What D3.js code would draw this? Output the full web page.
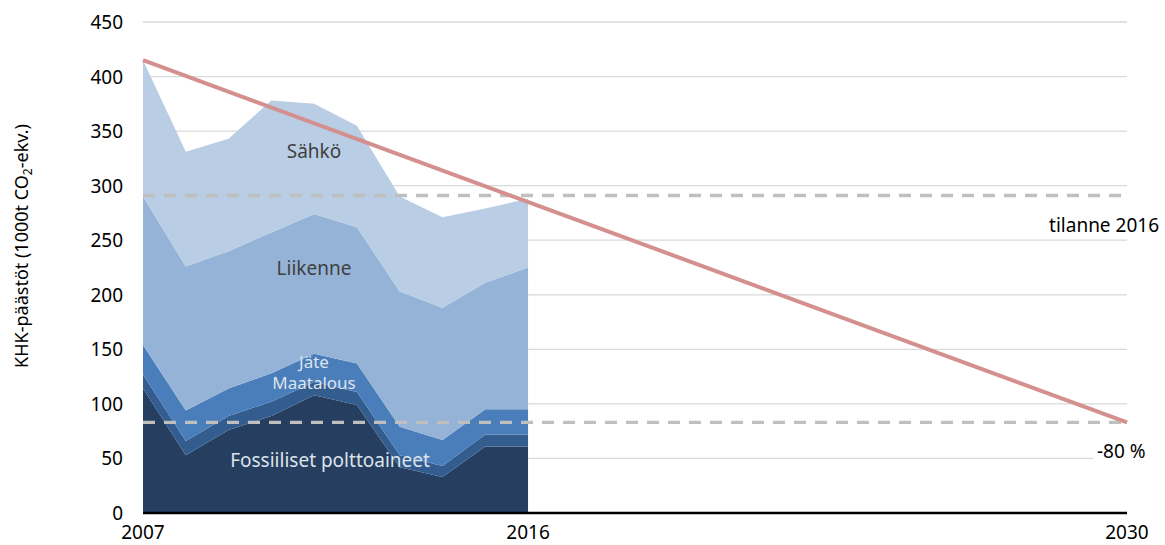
<!DOCTYPE html>
<html>
<head>
<meta charset="utf-8">
<script src="https://cdn.jsdelivr.net/npm/d3@7"></script>
<style>
  body { margin: 0; background: #fff; }
  svg text { font-family: "Noto Sans", "Open Sans", sans-serif; }
</style>
</head>
<body>
<script>
// vuodet ja sektorit
var years = [2007, 2008, 2009, 2010, 2011, 2012, 2013, 2014, 2015, 2016];
var fossiiliset = [114, 53, 76, 89, 108, 99, 42, 33, 61, 61];
var maatalous = [13, 13, 13, 13, 12, 12, 11, 10, 11, 11];
var jate = [27, 28, 25, 26, 26, 26, 26, 24, 23, 23];
var liikenne = [136, 132, 126, 129, 128, 125, 124, 121, 116, 130];
var sahko = [125, 105, 103, 121, 101, 93, 87, 83, 68, 63];

var seriesNames = ["Fossiiliset polttoaineet", "Maatalous", "Jäte", "Liikenne", "Sähkö"];
var seriesColors = ["#263f60", "#335d8f", "#4a7ebb", "#95b3d7", "#b9cde5"];

// tavoiteviiva ja viitetasot
var targetYears = [2007, 2030];
var targetValues = [415, 83];
var tilanne2016 = 291;
var miinus80 = 83;

var xTicks = [2007, 2016, 2030];
var yTicks = [0, 50, 100, 150, 200, 250, 300, 350, 400, 450];

var width = 1165, height = 545;
var margin = {top: 22, bottom: 32, left: 143, right: 38};

var svg = d3.select("body").append("svg")
    .attr("width", width)
    .attr("height", height);

var x = d3.scaleLinear().domain([2007, 2030]).range([margin.left, width - margin.right]);
var y = d3.scaleLinear().domain([0, 450]).range([height - margin.bottom, margin.top]);

// gridlines
svg.append("g").selectAll("line")
    .data(yTicks.slice(1))
    .join("line")
    .attr("x1", x(2007)).attr("x2", x(2030))
    .attr("y1", d => y(d)).attr("y2", d => y(d))
    .attr("stroke", "#d9d9d9").attr("stroke-width", 1.3);

// pinotut alueet
var table = years.map(function(yr, i) {
  return {year: yr, s0: fossiiliset[i], s1: maatalous[i], s2: jate[i], s3: liikenne[i], s4: sahko[i]};
});
var stack = d3.stack().keys(["s0", "s1", "s2", "s3", "s4"]);
var layers = stack(table);

var area = d3.area()
    .x(d => x(d.data.year))
    .y0(d => y(d[0]))
    .y1(d => y(d[1]));

svg.append("g").selectAll("path")
    .data(layers)
    .join("path")
    .attr("d", area)
    .attr("fill", (d, i) => seriesColors[i]);

// katkoviivat
svg.append("g").selectAll("line")
    .data([tilanne2016, miinus80])
    .join("line")
    .attr("x1", x(2007)).attr("x2", x(2030))
    .attr("y1", d => y(d)).attr("y2", d => y(d))
    .attr("stroke", "#bfbfbf").attr("stroke-width", 3.3)
    .attr("stroke-dasharray", "12,9");

// tavoiteviiva
svg.append("path")
    .datum(targetYears.map((yr, i) => [yr, targetValues[i]]))
    .attr("d", d3.line().x(d => x(d[0])).y(d => y(d[1])))
    .attr("fill", "none")
    .attr("stroke", "#d4908e")
    .attr("stroke-width", 4);

// x-akseli
svg.append("line")
    .attr("x1", x(2007)).attr("x2", x(2030))
    .attr("y1", y(0)).attr("y2", y(0))
    .attr("stroke", "#000").attr("stroke-width", 2.5);

svg.append("g").selectAll("text")
    .data(xTicks)
    .join("text")
    .attr("x", d => x(d))
    .attr("y", y(0) + 26)
    .attr("text-anchor", "middle")
    .attr("font-size", 19)
    .attr("fill", "#000")
    .text(d => d);

// y-akseli
svg.append("g").selectAll("text")
    .data(yTicks)
    .join("text")
    .attr("x", 123)
    .attr("y", d => y(d) + 7)
    .attr("text-anchor", "end")
    .attr("font-size", 19)
    .attr("fill", "#000")
    .text(d => d);

var yTitle = svg.append("text")
    .attr("transform", "translate(28,246) rotate(-90)")
    .attr("text-anchor", "middle")
    .attr("font-size", 18)
    .attr("fill", "#000");
yTitle.append("tspan").text("KHK-päästöt (1000t CO");
yTitle.append("tspan").attr("font-size", 12).attr("dy", 4).text("2");
yTitle.append("tspan").attr("dy", -4).text("-ekv.)");

// sarjojen nimet
var labels = [
  {t: "Sähkö", x: 314, y: 158, c: "#404040", s: 19},
  {t: "Liikenne", x: 314, y: 275, c: "#404040", s: 19},
  {t: "Jäte", x: 314, y: 368, c: "#dde3eb", s: 17},
  {t: "Maatalous", x: 314, y: 389, c: "#dde3eb", s: 17},
  {t: "Fossiiliset polttoaineet", x: 330, y: 467, c: "#dde3eb", s: 19}
];
svg.append("g").selectAll("text")
    .data(labels)
    .join("text")
    .attr("x", d => d.x).attr("y", d => d.y)
    .attr("text-anchor", "middle")
    .attr("font-size", d => d.s)
    .attr("fill", d => d.c)
    .text(d => d.t);

// oikean reunan tekstit
svg.append("text")
    .attr("x", 1159).attr("y", 232)
    .attr("text-anchor", "end")
    .attr("font-size", 19)
    .text("tilanne 2016");

svg.append("rect")
    .attr("x", 1093).attr("y", y(50) - 12)
    .attr("width", 40).attr("height", 24)
    .attr("fill", "#fff");
svg.append("text")
    .attr("x", 1097).attr("y", 458)
    .attr("font-size", 19)
    .text("-80 %");
</script>
</body>
</html>
